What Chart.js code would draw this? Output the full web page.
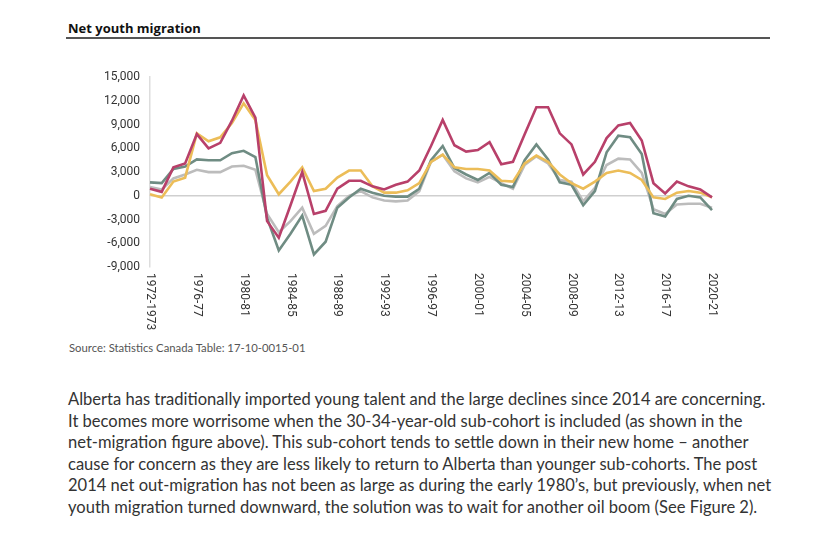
<!DOCTYPE html>
<html>
<head>
<meta charset="utf-8">
<script src="https://cdn.jsdelivr.net/npm/chart.js@4"></script>
<style>
  body { margin: 0; background: #fff; width: 835px; height: 550px; position: relative; overflow: hidden; }
  #title { position: absolute; left: 68px; top: 19px; font: bold 13px "Open Sans", sans-serif; color: #111; }
  #rule { position: absolute; left: 66px; top: 37px; width: 704px; height: 2px; background: #555; }
  #wrap { position: absolute; left: 60px; top: 60px; width: 680px; height: 280px; }
  #source { position: absolute; left: 69px; top: 341px; font: 11.3px Lato, sans-serif; color: #555; }
  #text { position: absolute; left: 68px; top: 389px; font: 16.55px Lato, sans-serif; color: #333; line-height: 21.6px; white-space: nowrap; }
</style>
</head>
<body>
<div id="title">Net youth migration</div>
<div id="rule"></div>
<div id="wrap"><canvas id="chart"></canvas></div>
<div id="source">Source: Statistics Canada Table: 17-10-0015-01</div>
<div id="text">
<div>Alberta has traditionally imported young talent and the large declines since 2014 are concerning.</div>
<div>It becomes more worrisome when the 30-34-year-old sub-cohort is included (as shown in the</div>
<div>net-migration figure above). This sub-cohort tends to settle down in their new home – another</div>
<div>cause for concern as they are less likely to return to Alberta than younger sub-cohorts. The post</div>
<div>2014 net out-migration has not been as large as during the early 1980’s, but previously, when net</div>
<div>youth migration turned downward, the solution was to wait for another oil boom (See Figure 2).</div>
</div>
<script>
'use strict';

const YEARS = [
  '1972-1973', '1973-74', '1974-75', '1975-76', '1976-77', '1977-78', '1978-79', '1979-80',
  '1980-81', '1981-82', '1982-83', '1983-84', '1984-85', '1985-86', '1986-87', '1987-88',
  '1988-89', '1989-90', '1990-91', '1991-92', '1992-93', '1993-94', '1994-95', '1995-96',
  '1996-97', '1997-98', '1998-99', '1999-00', '2000-01', '2001-02', '2002-03', '2003-04',
  '2004-05', '2005-06', '2006-07', '2007-08', '2008-09', '2009-10', '2010-11', '2011-12',
  '2012-13', '2013-14', '2014-15', '2015-16', '2016-17', '2017-18', '2018-19', '2019-20',
  '2020-21'
];

const crimson = [
  900, 500, 3600, 4100, 7800, 6000, 6700, 9500, 12700, 9900, -3200, -5300, -1200, 3000, -2300, -1900,
  900, 1900, 1900, 1200, 800, 1400, 1800, 3200, 6300, 9600, 6400, 5600, 5800, 6800, 4000, 4300,
  7800, 11200, 11200, 7900, 6500, 2700, 4300, 7300, 8900, 9200, 7000, 1600, 300, 1800, 1200, 800,
  -200
];
const darkGrey = [
  1700, 1600, 3400, 3700, 4600, 4500, 4500, 5400, 5700, 4900, -2800, -6900, -4800, -2500, -7400, -5800,
  -1500, -200, 900, 400, 0, -100, -100, 900, 4500, 6300, 3500, 2700, 2000, 2900, 1400, 1100,
  4500, 6500, 4600, 1700, 1400, -1200, 600, 5500, 7600, 7400, 5300, -2200, -2600, -400, 0, -200,
  -1800
];
const lightGrey = [
  1100, 800, 2200, 2700, 3300, 3000, 3000, 3700, 3800, 3300, -2300, -4600, -3200, -1500, -4800, -3800,
  -1300, 0, 600, -200, -600, -700, -600, 600, 4300, 5200, 3100, 2200, 1700, 2400, 1600, 900,
  3900, 5000, 4100, 2000, 1800, -700, 1000, 3900, 4700, 4600, 2900, -1700, -2300, -1100, -1000, -1000,
  -1500
];
const yellow = [
  200, -200, 1800, 2300, 7900, 6900, 7400, 9200, 11700, 9600, 2600, 200, 1800, 3600, 600, 900,
  2300, 3200, 3200, 1200, 400, 400, 700, 1600, 4300, 5200, 3600, 3400, 3400, 3200, 1900, 1800,
  4100, 5100, 4300, 2700, 1600, 900, 1800, 2900, 3200, 2900, 2000, -200, -400, 400, 600, 400,
  -200
];

const Y_TICKS = [-9000, -6000, -3000, 0, 3000, 6000, 9000, 12000, 15000];

const TICK_FAMILY = '"Liberation Sans Narrow", Roboto, sans-serif';

// x labels read top-to-bottom, so draw them ourselves
const xLabels = {
  id: 'xLabels',
  afterDraw(chart) {
    const ctx = chart.ctx;
    const x = chart.scales.x;
    const top = chart.chartArea.bottom + 6;
    ctx.save();
    ctx.font = '12px ' + TICK_FAMILY;
    ctx.fillStyle = '#333';
    ctx.textAlign = 'left';
    ctx.textBaseline = 'middle';
    for (let i = 0; i < YEARS.length; i += 4) {
      ctx.save();
      ctx.translate(x.getPixelForValue(i), top);
      ctx.rotate(Math.PI / 2);
      ctx.fillText(YEARS[i], 0, 0);
      ctx.restore();
    }
    ctx.restore();
  }
};

const line = (data, color) => ({
  data: data,
  borderColor: color,
  borderWidth: 2.6,
  pointRadius: 0,
  tension: 0,
  fill: false
});

new Chart(document.querySelector('#chart'), {
  type: 'line',
  data: {
    labels: YEARS,
    datasets: [
      line(crimson, '#b8406a'),
      line(yellow, '#ecbd58'),
      line(darkGrey, '#6f8c83'),
      line(lightGrey, '#bcbcbc')
    ]
  },
  options: {
    responsive: true,
    maintainAspectRatio: false,
    animation: false,
    layout: { padding: { top: 12, right: 28, bottom: 73, left: 0 } },
    plugins: {
      legend: { display: false },
      tooltip: { enabled: false }
    },
    scales: {
      x: {
        offset: false,
        ticks: { display: false },
        grid: { display: false },
        border: { display: false },
        afterFit: (s) => { s.height = 0; }
      },
      y: {
        min: -9000,
        max: 15000,
        afterBuildTicks: (s) => { s.ticks = Y_TICKS.map(v => ({ value: v })); },
        afterFit: (s) => { s.width = 90; },
        ticks: {
          padding: 10,
          color: '#333',
          font: { family: TICK_FAMILY, size: 12 },
          callback: (v) => v.toLocaleString('en-US')
        },
        grid: {
          drawTicks: false,
          color: (c) => c.tick && c.tick.value === 0 ? '#cfcfcf' : 'rgba(0,0,0,0)',
          lineWidth: 1.5
        },
        border: { display: true, color: '#dddddd', width: 1.5 }
      }
    }
  },
  plugins: [xLabels]
});
</script>
</body>
</html>
